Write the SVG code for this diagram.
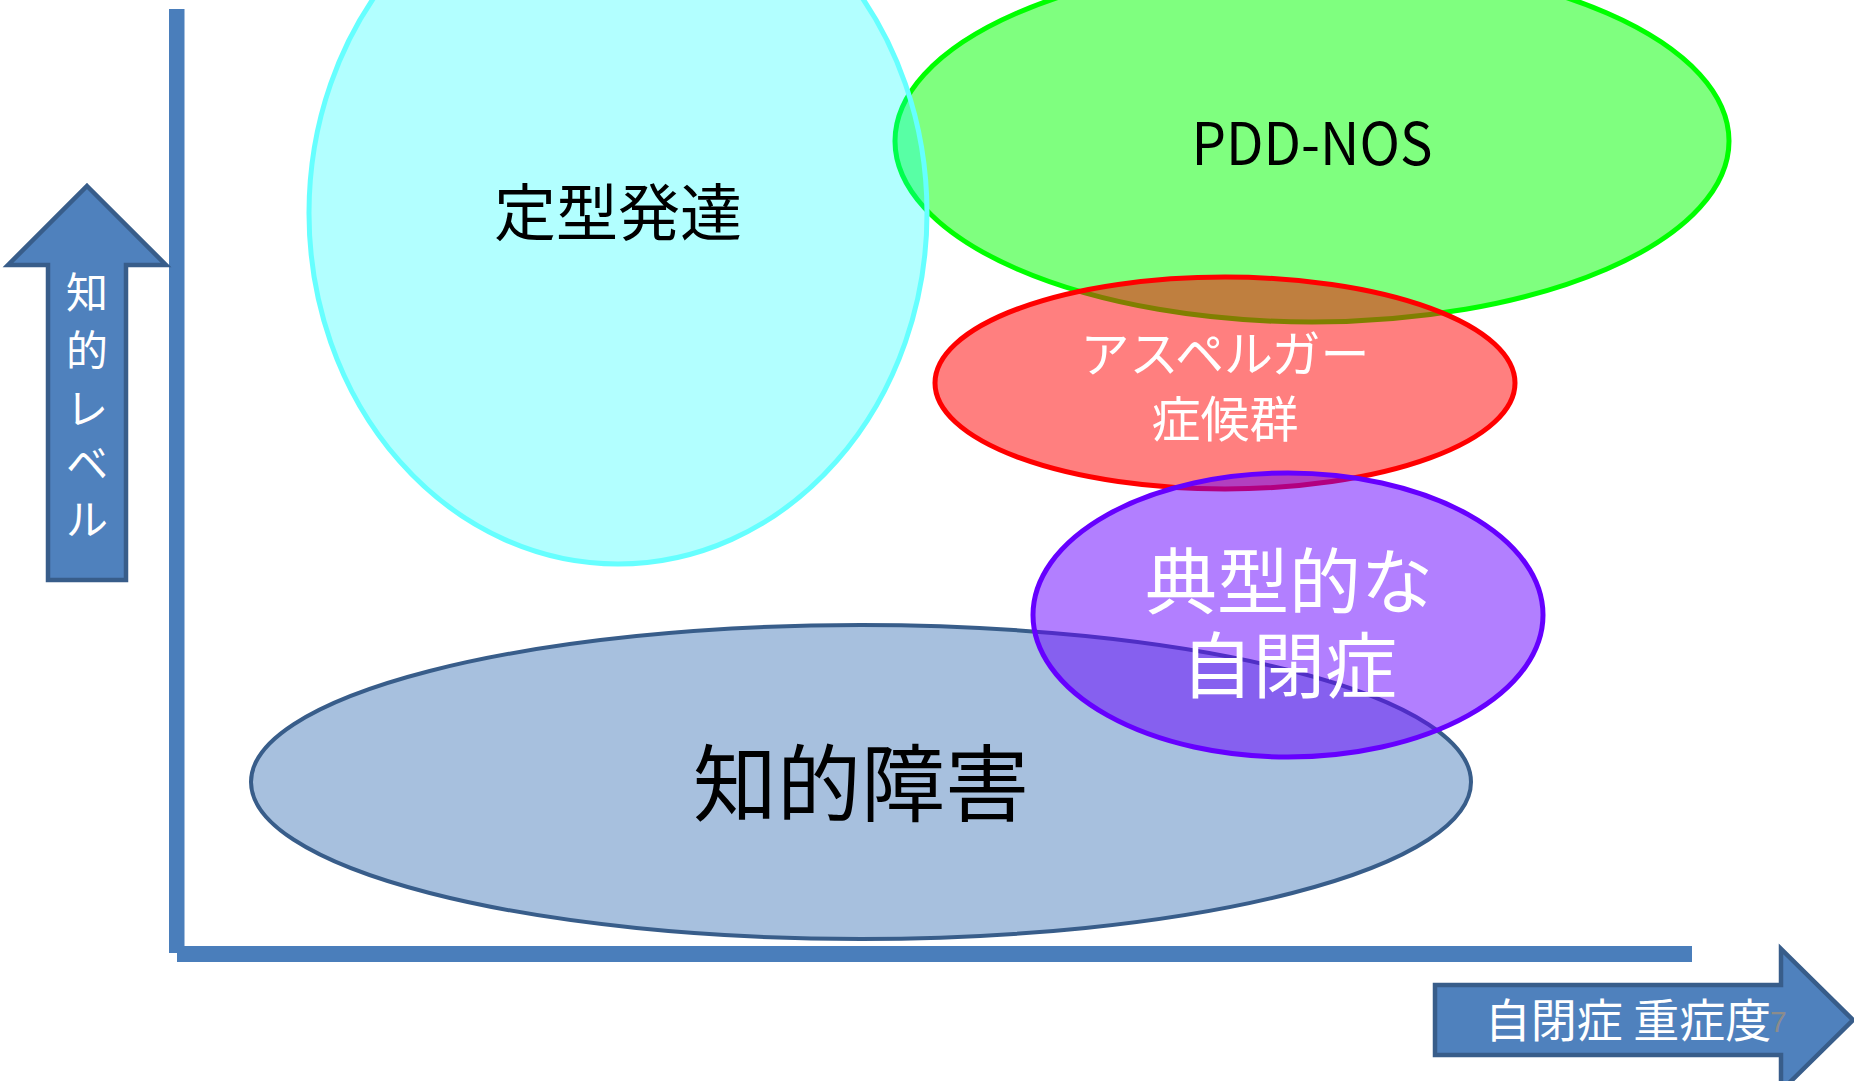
<svg xmlns="http://www.w3.org/2000/svg" width="1854" height="1081" viewBox="0 0 1854 1081">
<style>
.jp{font-family:"Noto Sans CJK JP","Noto Sans",sans-serif}
.w{fill:#ffffff}
.k{fill:#000000}
.arrow{fill:#4f81bd;stroke:#385d8a;stroke-width:4.5;stroke-linejoin:miter}
.axis{fill:#4a7ebb}
</style>
<rect width="1854" height="1081" fill="#ffffff"/>
<g id="axes">
<rect class="axis" x="169" y="9" width="15.5" height="944"/>
<rect class="axis" x="177" y="946" width="1515" height="16"/>
</g>
<g id="node-intellectual-disability">
<ellipse cx="861" cy="782" rx="610" ry="157" fill="#4f81bd" fill-opacity="0.5" stroke="#385d8a" stroke-width="4"/>
<text class="jp k" x="861" y="778" font-size="84" text-anchor="middle" dominant-baseline="central">知的障害</text>
</g>
<g id="node-pdd-nos">
<ellipse cx="1312" cy="141" rx="417" ry="181" fill="#00ff00" fill-opacity="0.5" stroke="#00ff00" stroke-width="5"/>
<text class="jp k" x="1312" y="140" font-size="58" text-anchor="middle" dominant-baseline="central" textLength="241" lengthAdjust="spacingAndGlyphs">PDD-NOS</text>
</g>
<g id="node-typical">
<ellipse cx="618" cy="213" rx="309" ry="351" fill="#00ffff" fill-opacity="0.3" stroke="#66ffff" stroke-width="5"/>
<text class="jp k" x="618" y="209" font-size="62" text-anchor="middle" dominant-baseline="central">定型発達</text>
</g>
<g id="node-asperger">
<ellipse cx="1225" cy="383" rx="290" ry="106" fill="#ff0000" fill-opacity="0.5" stroke="#ff0000" stroke-width="5"/>
<text class="jp w" x="1225" y="350" font-size="49" text-anchor="middle" dominant-baseline="central">アスペルガー</text>
<text class="jp w" x="1225" y="415" font-size="49" text-anchor="middle" dominant-baseline="central">症候群</text>
</g>
<g id="node-autism">
<ellipse cx="1288" cy="615" rx="255" ry="142" fill="#6600ff" fill-opacity="0.5" stroke="#6600ff" stroke-width="5"/>
<text class="jp w" x="1289" y="576" font-size="72" text-anchor="middle" dominant-baseline="central">典型的な</text>
<text class="jp w" x="1289" y="660" font-size="72" text-anchor="middle" dominant-baseline="central">自閉症</text>
</g>
<g id="node-iq-arrow">
<polygon class="arrow" points="87,186 166,265 126,265 126,580 48,580 48,265 8,265"/>
<text class="jp w" x="87" y="289" font-size="42" text-anchor="middle" dominant-baseline="central">知</text>
<text class="jp w" x="87" y="347" font-size="42" text-anchor="middle" dominant-baseline="central">的</text>
<text class="jp w" x="87" y="405" font-size="42" text-anchor="middle" dominant-baseline="central">レ</text>
<text class="jp w" x="87" y="460" font-size="42" text-anchor="middle" dominant-baseline="central">ベ</text>
<text class="jp w" x="87" y="516" font-size="42" text-anchor="middle" dominant-baseline="central">ル</text>
</g>
<g id="node-severity-arrow">
<polygon class="arrow" points="1435,985 1781,985 1781,949 1853,1020 1781,1091 1781,1055 1435,1055"/>
<text class="jp w" x="1628" y="1017" font-size="46" text-anchor="middle" dominant-baseline="central">自閉症 重症度</text>
</g>
<g id="slide-number">
<text x="1770" y="1032" font-family="Liberation Sans, sans-serif" font-size="30" fill="#8c8c8c">7</text>
</g>
</svg>
